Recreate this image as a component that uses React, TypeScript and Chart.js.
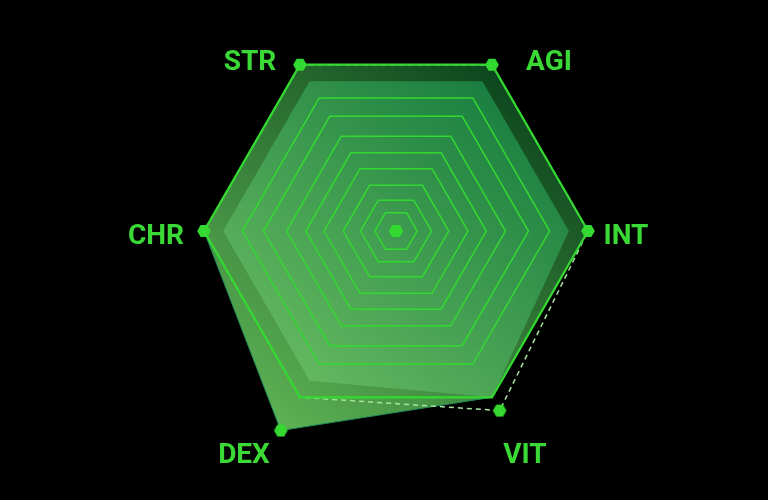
import React, { useEffect, useRef } from 'react';
import { Chart, registerables } from 'chart.js';

Chart.register(...registerables);

// ---- data ----
const attributes = ['STR', 'AGI', 'INT', 'VIT', 'DEX', 'CHR'];
const currentStats = [100, 100, 100, 100, 120, 100];
const projectedStats = [100, 100, 100, 108, 100, 100];
const innerStats = [90, 90, 90, 100, 90, 90];
const originStats = [0, 0, 0, 0, 0, 0];
const ringValues = [0, 11, 18.5, 27.5, 37.5, 47, 57, 69, 80, 100];
const scaleMin = 0;
const scaleMax = 100;

// ---- layout / style ----
const labelOffsets: [number, number][] = [
  [-50, -5],
  [57, -5],
  [38, 3],
  [33, 56],
  [-56, 56],
  [-48, 3],
];
const GREEN = '#33d931';

function makeHex(r: number, color: string) {
  const size = Math.ceil(r * 2) + 2;
  const c = document.createElement('canvas');
  c.width = size;
  c.height = size;
  const g = c.getContext('2d')!;
  g.fillStyle = color;
  g.beginPath();
  for (let k = 0; k < 6; k++) {
    const a = (Math.PI / 3) * k;
    const x = size / 2 + r * Math.cos(a);
    const y = size / 2 + r * Math.sin(a);
    if (k === 0) g.moveTo(x, y);
    else g.lineTo(x, y);
  }
  g.closePath();
  g.fill();
  return c;
}

const gradientFill = (from: string, to: string) => (ctx: any) => {
  const chart = ctx.chart;
  const s: any = chart.scales && chart.scales.r;
  if (!s || !s.drawingArea) return to;
  const R = s.drawingArea;
  const cx = s.xCenter;
  const cy = s.yCenter;
  const g = chart.ctx.createLinearGradient(cx + 0.9 * R, cy - 0.9 * R, cx - 0.7 * R, cy + 1.1 * R);
  g.addColorStop(0, from);
  g.addColorStop(1, to);
  return g;
};

const labelPlugin = {
  id: 'statLabels',
  afterDraw(chart: any) {
    const s = chart.scales.r;
    const ctx = chart.ctx;
    ctx.save();
    ctx.font = 'bold 28px Roboto';
    ctx.fillStyle = '#3ad936';
    ctx.textAlign = 'center';
    ctx.textBaseline = 'alphabetic';
    attributes.forEach((lab, i) => {
      const p = s.getPointPosition(i, s.drawingArea);
      const [dx, dy] = labelOffsets[i];
      ctx.fillText(lab, p.x + dx, p.y + dy + 10);
    });
    ctx.restore();
  },
};

export default function App() {
  const ref = useRef<HTMLCanvasElement>(null);

  useEffect(() => {
    if (!ref.current) return;
    const hex = makeHex(6.8, GREEN);
    const chart = new Chart(ref.current, {
      type: 'radar',
      data: {
        labels: attributes,
        datasets: [
          {
            label: 'Origin',
            data: originStats,
            showLine: false,
            fill: false,
            borderColor: 'transparent',
            borderWidth: 0,
            pointStyle: hex as any,
            pointRadius: 7,
            clip: false as any,
          },
          {
            label: 'Projected',
            data: projectedStats,
            fill: false,
            borderColor: '#a8e4a0',
            borderWidth: 1.5,
            borderDash: [5, 4],
            pointStyle: hex as any,
            pointRadius: (c: any) => (c.dataIndex === 3 ? 7 : 0),
            clip: false as any,
          },
          {
            label: 'Inner',
            data: innerStats,
            fill: true,
            backgroundColor: gradientFill('#0a733a', '#74c466'),
            borderColor: 'transparent',
            borderWidth: 0,
            pointRadius: 0,
            clip: false as any,
          },
          {
            label: 'Current',
            data: currentStats,
            fill: true,
            backgroundColor: gradientFill('#023816', '#62b757'),
            borderColor: '#1f8f5a',
            borderWidth: 1,
            pointStyle: hex as any,
            pointRadius: (c: any) => (c.dataIndex === 3 ? 0 : 7),
            clip: false as any,
          },
        ],
      },
      options: {
        animation: false,
        responsive: true,
        maintainAspectRatio: false,
        layout: { padding: { left: 204, right: 180, top: 0, bottom: 38 } },
        elements: { line: { tension: 0, borderJoinStyle: 'miter' } },
        plugins: {
          legend: { display: false },
          tooltip: { enabled: false },
        },
        scales: {
          r: {
            min: scaleMin,
            max: scaleMax,
            startAngle: -30,
            afterBuildTicks: (scale: any) => {
              scale.ticks = ringValues.map((v) => ({ value: v }));
            },
            ticks: { display: false, z: 1 },
            grid: {
              z: 1,
              color: GREEN,
              lineWidth: (c: any) => (c.tick && c.tick.value === scaleMax ? 2.2 : 1.5),
            },
            angleLines: { display: false },
            pointLabels: { display: false },
          } as any,
        },
      },
      plugins: [labelPlugin],
    });
    return () => chart.destroy();
  }, []);

  return (
    <div style={{ position: 'fixed', left: 0, top: 0, width: 768, height: 500, background: '#000' }}>
      <canvas ref={ref} />
    </div>
  );
}
